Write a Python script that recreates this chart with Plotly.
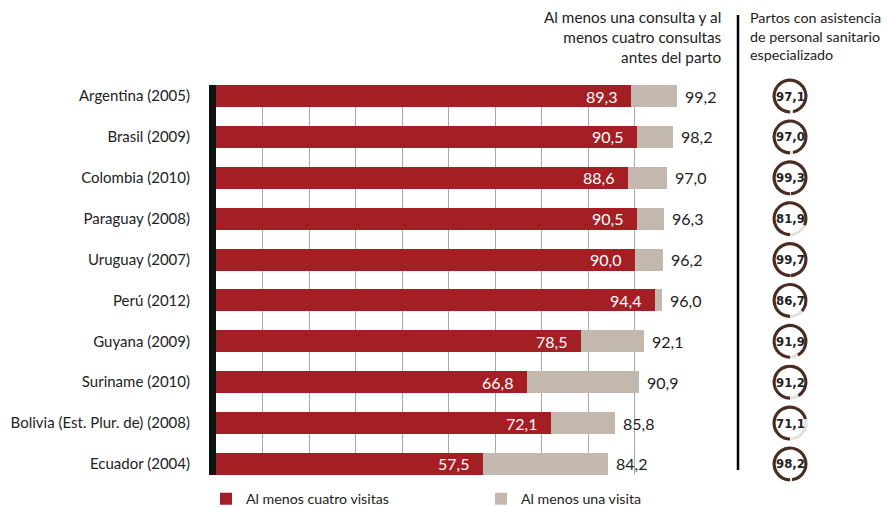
import plotly.graph_objects as go

countries = ["Argentina (2005)", "Brasil (2009)", "Colombia (2010)", "Paraguay (2008)",
             "Uruguay (2007)", "Perú (2012)", "Guyana (2009)", "Suriname (2010)",
             "Bolivia (Est. Plur. de) (2008)", "Ecuador (2004)"]
cuatro_visitas = [89.3, 90.5, 88.6, 90.5, 90.0, 94.4, 78.5, 66.8, 72.1, 57.5]
una_visita = [99.2, 98.2, 97.0, 96.3, 96.2, 96.0, 92.1, 90.9, 85.8, 84.2]
partos_asistidos = [97.1, 97.0, 99.3, 81.9, 99.7, 86.7, 91.9, 91.2, 71.1, 98.2]

RED = "#a41f24"
BEIGE = "#c2b8ae"
BROWN = "#4a2c22"
RING_BG = "#e4e2e0"
FONT = "Lato, 'Noto Sans', sans-serif"
NARROW = "'DejaVu Sans Condensed', sans-serif"

W, H = 888, 507
PL, PR = 216, 682        # plot x pixel extent
PT, PB = 85, 475         # plot y pixel extent
BARW = 0.54
YLO, YHI = -BARW / 2, len(countries) - 1 + BARW / 2

def fmt(v):
    return f"{v:.1f}".replace(".", ",")

fig = go.Figure()
fig.add_trace(go.Bar(
    y=countries, x=cuatro_visitas, orientation="h", name="Al menos cuatro visitas",
    marker=dict(color=RED, line=dict(width=0)), width=BARW,
    textposition="none", hoverinfo="skip"))
fig.add_trace(go.Bar(
    y=countries, x=[round(t - c, 1) for t, c in zip(una_visita, cuatro_visitas)],
    orientation="h", name="Al menos una visita",
    marker=dict(color=BEIGE, line=dict(width=0)), width=BARW,
    textposition="none", hoverinfo="skip"))

for c, v in zip(countries, cuatro_visitas):
    fig.add_annotation(x=v, y=c, xref="x", yref="y", text=fmt(v), showarrow=False,
                       xanchor="right", yanchor="middle", xshift=-12,
                       font=dict(size=16, color="white", family=FONT))
for c, t in zip(countries, una_visita):
    fig.add_annotation(x=t, y=c, xref="x", yref="y", text=fmt(t), showarrow=False,
                       xanchor="left", yanchor="middle", xshift=6,
                       font=dict(size=16, color="#222", family=FONT))

# ring charts on the right
py_per_unit = (PB - PT) / (YHI - YLO)
R = 17.5
CX = 790
for i, v in enumerate(partos_asistidos):
    cy = PT + (i - YLO) * py_per_unit
    fig.add_trace(go.Pie(
        values=[v, 100 - v], sort=False, direction="clockwise", rotation=180,
        hole=0.82, marker=dict(colors=[BROWN, RING_BG], line=dict(width=0)),
        textinfo="none", hoverinfo="skip", showlegend=False,
        domain=dict(x=[(CX - R) / W, (CX + R) / W],
                    y=[1 - (cy + R) / H, 1 - (cy - R) / H])))
    fig.add_annotation(x=CX / W, y=1 - cy / H, xref="paper", yref="paper",
                       xanchor="center", yanchor="middle",
                       text=f"<b>{fmt(v)}</b>", showarrow=False,
                       font=dict(family=NARROW, size=13, color="#222"))

fig.add_annotation(x=724 / W, y=1 - 6 / H, xref="paper", yref="paper",
                   text="Al menos una consulta y al<br>menos cuatro consultas<br>antes del parto",
                   showarrow=False, xanchor="right", yanchor="top", align="right",
                   font=dict(size=15.3, color="#222", family=FONT))
fig.add_annotation(x=748 / W, y=1 - 7 / H, xref="paper", yref="paper",
                   text="Partos con asistencia<br>de personal sanitario<br>especializado",
                   showarrow=False, xanchor="left", yanchor="top", align="left",
                   font=dict(size=14.3, color="#222", family=FONT))
fig.add_shape(type="line", xref="paper", yref="paper", x0=738 / W, x1=738 / W,
              y0=1 - 15 / H, y1=1 - 470 / H, line=dict(color="black", width=2.5))

fig.update_layout(
    width=W, height=H, barmode="stack", bargap=0,
    margin=dict(l=0, r=0, t=0, b=0, autoexpand=False),
    paper_bgcolor="white", plot_bgcolor="white",
    font=dict(family=FONT, size=14, color="#222"),
    xaxis=dict(domain=[PL / W, PR / W], range=[0, 100.2], dtick=10, showgrid=True,
               gridcolor="#aaaaaa", gridwidth=1, zeroline=False, showticklabels=False,
               showline=False, fixedrange=True),
    yaxis=dict(domain=[1 - PB / H, 1 - PT / H], range=[YHI, YLO], type="category",
               showline=True, linecolor="#111", linewidth=7, ticks="",
               ticklabelstandoff=16, tickfont=dict(size=15, color="#222", family=FONT),
               showgrid=False, zeroline=False),
    legend=dict(orientation="h", x=206 / W, y=1 - 499 / H, yanchor="middle", xanchor="left",
                xref="container", yref="container",
                traceorder="normal", entrywidth=230, entrywidthmode="pixels",
                font=dict(size=14.2, color="#222", family=FONT), bgcolor="rgba(0,0,0,0)"),
    showlegend=True,
)
fig.write_html("out.html", config={"displayModeBar": False},
               post_script="document.body.style.margin='0';")
